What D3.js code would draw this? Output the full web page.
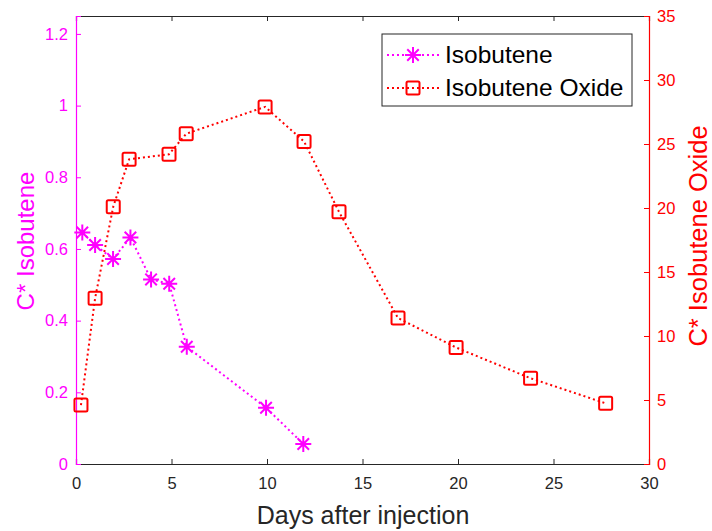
<!DOCTYPE html>
<html><head><meta charset="utf-8">
<script src="https://cdn.jsdelivr.net/npm/d3@7"></script>
<style>body{margin:0;background:#fff;} svg{display:block;font-family:"Liberation Sans",Arial,sans-serif;}</style>
</head><body><svg id="c" width="712" height="531"></svg>
<script>
const isoX = [0.33, 1.0, 1.94, 2.85, 3.93, 4.88, 5.8, 9.95, 11.9];
const isoY = [0.646, 0.611, 0.572, 0.632, 0.515, 0.503, 0.327, 0.157, 0.056];
const oxX = [0.26, 1.0, 1.95, 2.78, 4.87, 5.77, 9.9, 11.94, 13.77, 16.86, 19.9, 23.8, 27.73];
const oxY = [4.6, 12.95, 20.1, 23.8, 24.2, 25.8, 27.9, 25.2, 19.7, 11.4, 9.1, 6.7, 4.74];
const xTicks = [0, 5, 10, 15, 20, 25, 30];
const leftTicks = [0, 0.2, 0.4, 0.6, 0.8, 1, 1.2];
const rightTicks = [0, 5, 10, 15, 20, 25, 30, 35];

const svg = d3.select("#c");
const L = 76, R = 649, T = 16, B = 464;
const x = d3.scaleLinear().domain([0, 30]).range([L, R]);
const yL = d3.scaleLinear().domain([0, 1.25]).range([B, T]);
const yR = d3.scaleLinear().domain([0, 35]).range([B, T]);
const MAG = "#ff00ff", RED = "#ff0000", GR = "#262626";
const TF = "16.5px";

// x axis bottom
const xa = svg.append("g").attr("transform", `translate(0,${B})`)
  .call(d3.axisBottom(x).tickValues(xTicks).tickSize(-5).tickPadding(13).tickFormat(d3.format("d")));
xa.select(".domain").attr("stroke", GR);
xa.selectAll(".tick line").attr("stroke", GR);
xa.selectAll("text").attr("fill", GR).style("font-size", TF);
// top axis
const xt = svg.append("g").attr("transform", `translate(0,${T})`)
  .call(d3.axisTop(x).tickValues(xTicks).tickSize(-5).tickFormat(""));
xt.select(".domain").attr("stroke", GR);
xt.selectAll(".tick line").attr("stroke", GR);

// left axis
const la = svg.append("g").attr("transform", `translate(${L},0)`)
  .call(d3.axisLeft(yL).tickValues(leftTicks).tickSize(-5).tickPadding(8).tickFormat(d => d3.format("~g")(d)));
la.select(".domain").attr("stroke", MAG);
la.selectAll(".tick line").attr("stroke", MAG);
la.selectAll("text").attr("fill", MAG).style("font-size", TF);
// right axis
const ra = svg.append("g").attr("transform", `translate(${R},0)`)
  .call(d3.axisRight(yR).tickValues(rightTicks).tickSize(-5).tickPadding(8).tickFormat(d3.format("d")));
ra.select(".domain").attr("stroke", RED);
ra.selectAll(".tick line").attr("stroke", RED);
ra.selectAll("text").attr("fill", RED).style("font-size", TF);
svg.selectAll(".domain").attr("stroke-width", 1.2);

// labels
svg.append("text").attr("x", 363).attr("y", 524).attr("text-anchor", "middle")
  .attr("fill", GR).style("font-size", "25px").text("Days after injection");
svg.append("text").attr("transform", `translate(34,241) rotate(-90)`).attr("text-anchor", "middle")
  .attr("fill", MAG).style("font-size", "24px").text("C* Isobutene");
svg.append("text").attr("transform", `translate(707,236) rotate(-90)`).attr("text-anchor", "middle")
  .attr("fill", RED).style("font-size", "25.5px").text("C* Isobutene Oxide");

// lines
const lineL = d3.line().x(d => x(d[0])).y(d => yL(d[1]));
const lineR = d3.line().x(d => x(d[0])).y(d => yR(d[1]));
const isoData = isoX.map((v, i) => [v, isoY[i]]);
const oxData = oxX.map((v, i) => [v, oxY[i]]);
svg.append("path").datum(oxData).attr("d", lineR).attr("fill", "none").attr("stroke", RED)
  .attr("stroke-width", 2).attr("stroke-dasharray", "2,3");
svg.append("path").datum(isoData).attr("d", lineL).attr("fill", "none").attr("stroke", MAG)
  .attr("stroke-width", 2).attr("stroke-dasharray", "2,3");

function asterisk(g, cx, cy, r) {
  const p = [];
  p.push(`M${cx-r},${cy}L${cx+r},${cy}`);
  p.push(`M${cx},${cy-r}L${cx},${cy+r}`);
  const k = r * 0.72;
  p.push(`M${cx-k},${cy-k}L${cx+k},${cy+k}`);
  p.push(`M${cx-k},${cy+k}L${cx+k},${cy-k}`);
  g.append("path").attr("d", p.join("")).attr("stroke", MAG).attr("stroke-width", 2).attr("fill", "none");
}
function square(g, cx, cy, s) {
  g.append("rect").attr("x", cx - s/2).attr("y", cy - s/2).attr("width", s).attr("height", s)
    .attr("rx", 1.5).attr("fill", "none").attr("stroke", RED).attr("stroke-width", 2);
}
const mg = svg.append("g");
oxData.forEach(d => square(mg, x(d[0]), yR(d[1]), 13));
isoData.forEach(d => asterisk(mg, x(d[0]), yL(d[1]), 8));

// legend
const lg = svg.append("g");
lg.append("rect").attr("x", 382).attr("y", 34).attr("width", 250).attr("height", 72)
  .attr("fill", "#fff").attr("stroke", GR).attr("stroke-width", 1);
lg.append("line").attr("x1", 387).attr("x2", 440).attr("y1", 55).attr("y2", 55)
  .attr("stroke", MAG).attr("stroke-width", 2).attr("stroke-dasharray", "2,3");
asterisk(lg, 413, 55, 8);
lg.append("line").attr("x1", 387).attr("x2", 440).attr("y1", 88).attr("y2", 88)
  .attr("stroke", RED).attr("stroke-width", 2).attr("stroke-dasharray", "2,3");
square(lg, 413, 88, 13);
lg.append("text").attr("x", 445).attr("y", 63).attr("fill", "#000").style("font-size", "24.5px").text("Isobutene");
lg.append("text").attr("x", 445).attr("y", 96).attr("fill", "#000").style("font-size", "24.5px").text("Isobutene Oxide");
</script></body></html>
